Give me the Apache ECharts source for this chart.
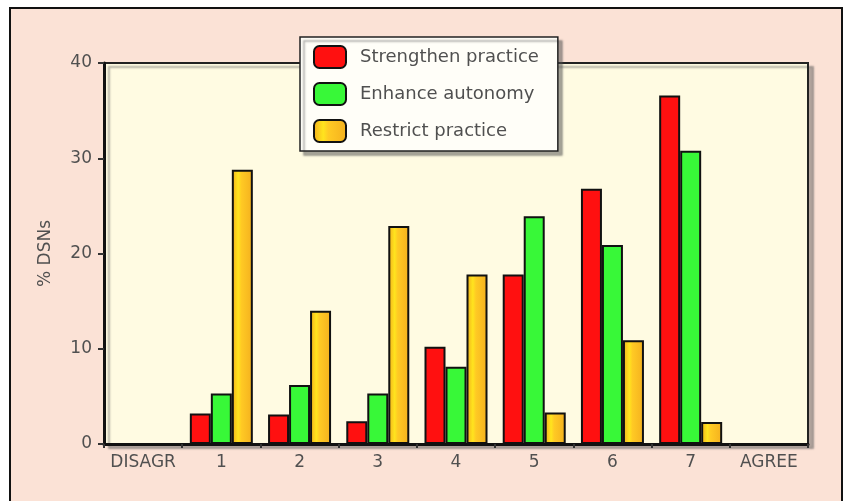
<!DOCTYPE html>
<html>
<head>
<meta charset="utf-8">
<script src="https://cdn.jsdelivr.net/npm/echarts@6/dist/echarts.min.js"></script>
<style>
  html, body { margin: 0; padding: 0; background: #ffffff; }
  #chart { width: 844px; height: 501px; }
</style>
</head>
<body>
<div id="chart"></div>
<script>
// Agreement scale categories (x axis)
const categories = ['DISAGR', '1', '2', '3', '4', '5', '6', '7', 'AGREE'];

// Percent of DSNs per scale point
const strengthenPractice = [null, 3.2, 3.1, 2.4, 10.2, 17.8, 26.8, 36.6, null];
const enhanceAutonomy    = [null, 5.3, 6.2, 5.3, 8.1, 23.9, 20.9, 30.8, null];
const restrictPractice   = [null, 28.8, 14.0, 22.9, 17.8, 3.3, 10.9, 2.3, null];

const seriesNames = ['Strengthen practice', 'Enhance autonomy', 'Restrict practice'];
const yTicks = { min: 0, max: 40, interval: 10 };

const chart = echarts.init(document.getElementById('chart'));

const textColor = '#505050';
const fontFamily = '"DejaVu Sans", "Liberation Sans", sans-serif';

const yellowFill = new echarts.graphic.LinearGradient(0, 0, 1, 0, [
  { offset: 0, color: '#f2ad1c' },
  { offset: 0.3, color: '#ffe41e' },
  { offset: 0.45, color: '#ffca24' },
  { offset: 1, color: '#f4b01e' }
]);

function bar(name, data, color) {
  return {
    name: name,
    type: 'bar',
    data: data,
    barWidth: 21,
    barGap: '0%',
    itemStyle: { color: color, borderColor: '#111', borderWidth: 2 }
  };
}

chart.setOption({
  animation: false,
  textStyle: { fontFamily: fontFamily },
  graphic: [{
    type: 'rect',
    z: -10,
    shape: { x: 10, y: 8, width: 832, height: 500 },
    style: { fill: '#fbe2d6', stroke: '#111', lineWidth: 2 }
  }],
  grid: {
    show: true,
    left: 104, top: 63, right: 36, bottom: 57,
    backgroundColor: '#fffbe2',
    borderColor: '#222',
    borderWidth: 2,
    shadowColor: 'rgba(90,90,90,0.45)',
    shadowBlur: 2,
    shadowOffsetX: 5,
    shadowOffsetY: 4
  },
  legend: {
    orient: 'vertical',
    left: 300,
    top: 37,
    padding: [8, 19, 8, 13],
    itemWidth: 32,
    itemHeight: 22,
    itemGap: 13,
    icon: 'roundRect',
    backgroundColor: '#fffef8',
    borderColor: '#222',
    borderWidth: 1.5,
    shadowColor: 'rgba(80,80,80,0.5)',
    shadowBlur: 2,
    shadowOffsetX: 4,
    shadowOffsetY: 4,
    textStyle: { color: textColor, fontSize: 18, padding: [4, 0, 0, 9], fontFamily: fontFamily },
    data: seriesNames
  },
  xAxis: {
    type: 'category',
    data: categories,
    boundaryGap: true,
    axisLine: { lineStyle: { color: '#111', width: 3 } },
    axisTick: { show: true, length: 4, lineStyle: { color: '#333', width: 2 } },
    axisLabel: { color: textColor, fontSize: 17, margin: 10, interval: 0 },
    splitLine: { show: false }
  },
  yAxis: {
    type: 'value',
    min: yTicks.min, max: yTicks.max, interval: yTicks.interval,
    name: '% DSNs',
    nameLocation: 'middle',
    nameGap: 50,
    nameTextStyle: { color: textColor, fontSize: 17 },
    axisLine: { show: true, lineStyle: { color: '#111', width: 3 } },
    axisTick: { show: true, length: 6, lineStyle: { color: '#333', width: 2 } },
    axisLabel: { color: textColor, fontSize: 17, margin: 12 },
    splitLine: { show: false }
  },
  series: [
    bar(seriesNames[0], strengthenPractice, '#ff1010'),
    bar(seriesNames[1], enhanceAutonomy, '#38f838'),
    bar(seriesNames[2], restrictPractice, yellowFill)
  ]
});
</script>
</body>
</html>
